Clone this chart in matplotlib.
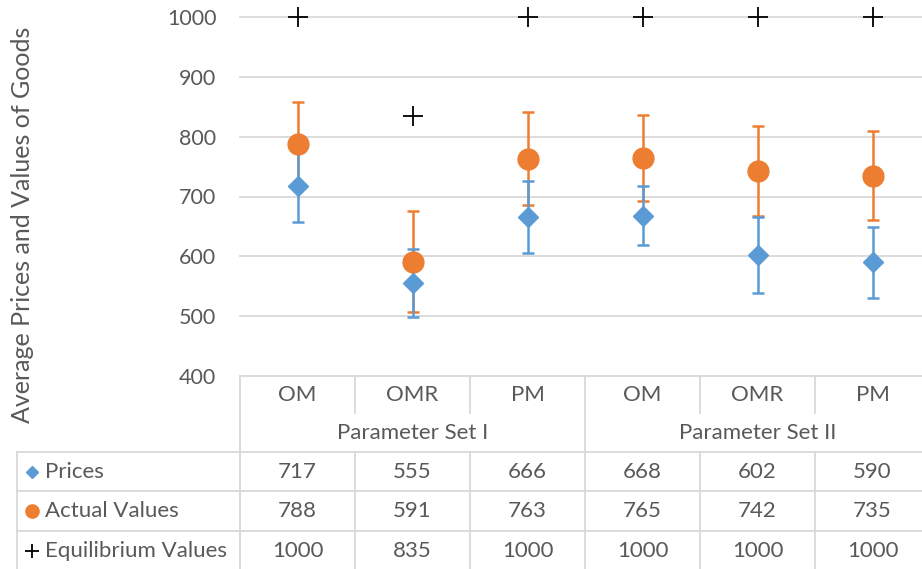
import matplotlib
matplotlib.use("Agg")
import matplotlib.pyplot as plt
from matplotlib.transforms import blended_transform_factory

plt.rcParams["font.family"] = ["Lato", "DejaVu Sans"]

# data
groups = ["Parameter Set I", "Parameter Set II"]
treatments = ["OM", "OMR", "PM", "OM", "OMR", "PM"]
prices = [717, 555, 666, 668, 602, 590]
prices_err = [60, 57, 60, 49, 64, 59]
actual = [788, 591, 763, 765, 742, 735]
actual_err = [70, 84, 78, 72, 75, 75]
equilibrium = [1000, 835, 1000, 1000, 1000, 1000]
yticks = [400, 500, 600, 700, 800, 900, 1000]

BLUE = "#5B9BD5"
ORANGE = "#ED7D31"
TXT = "#595959"
GRID = "#D9D9D9"
FS = 16

W, H = 922, 569
fig = plt.figure(figsize=(W / 100, H / 100), dpi=100)

# plot area in pixels: x 240..930, y 17..376
ax = fig.add_axes([240 / W, (H - 376) / H, 690 / W, (376 - 17) / H])
x = list(range(len(treatments)))

ax.errorbar(x, actual, yerr=actual_err, fmt="none", ecolor=ORANGE,
            elinewidth=1.8, capsize=4.5, capthick=1.8, zorder=2)
ax.errorbar(x, prices, yerr=prices_err, fmt="none", ecolor=BLUE,
            elinewidth=1.8, capsize=4.5, capthick=1.8, zorder=3)
ax.plot(x, actual, "o", color=ORANGE, ms=15, mec=ORANGE, zorder=4, linestyle="none")
ax.plot(x, prices, "D", color=BLUE, ms=10, mec=BLUE, zorder=5, linestyle="none")
ax.plot(x, equilibrium, "+", color="black", ms=14.4, mew=1.3, zorder=6,
        linestyle="none", clip_on=False)

ax.set_xlim(-0.5, len(treatments) - 0.5)
ax.set_ylim(400, 1000)
ax.set_yticks(yticks)
ax.set_yticklabels([str(v) for v in yticks], color=TXT, fontsize=15.5)
ax.tick_params(axis="y", length=0, pad=17)
ax.set_xticks([])
for s in ax.spines.values():
    s.set_visible(False)
for v in yticks[1:]:
    ax.axhline(v, color=GRID, lw=1.3, zorder=1, clip_on=False)

fig.text(23 / W, (H - 225) / H, "Average Prices and Values of Goods",
         rotation=90, ha="center", va="center", color=TXT, fontsize=18)

# data table below the plot
tab = fig.add_axes([0, 0, 1, 1], facecolor="none")
tab.set_xlim(0, W)
tab.set_ylim(H, 0)
tab.axis("off")
bt = blended_transform_factory(ax.transData, tab.transData)

n = len(treatments)
left_edge = 17
row_top = [376, 452, 491, 531]
row_bottom = 571

# horizontal lines
tab.plot([240, W], [376, 376], color=GRID, lw=1.3)
for yy in row_top[1:]:
    tab.plot([left_edge, W], [yy, yy], color=GRID, lw=1.3)
tab.plot([left_edge, left_edge], [452, row_bottom], color=GRID, lw=1.3)
tab.plot([240, 240], [376, row_bottom], color=GRID, lw=1.3)

# vertical column lines
for i in range(1, n + 1):
    xb = i - 0.5
    if i % 3 == 0:
        tab.plot([xb, xb], [376, row_bottom], color=GRID, lw=1.3, transform=bt, clip_on=False)
    else:
        tab.plot([xb, xb], [376, 413], color=GRID, lw=1.3, transform=bt, clip_on=False)
        tab.plot([xb, xb], [452, row_bottom], color=GRID, lw=1.3, transform=bt, clip_on=False)

# category labels
for i, t in enumerate(treatments):
    tab.text(i, 395, t, transform=bt, ha="center", va="center", color=TXT, fontsize=FS)
for g, name in enumerate(groups):
    tab.text(g * 3 + 1, 433, name, transform=bt, ha="center", va="center", color=TXT, fontsize=FS)

# series rows
rows = [
    ("Prices", prices, "D", BLUE, 6.5, 1),
    ("Actual Values", actual, "o", ORANGE, 9.5, 1),
    ("Equilibrium Values", equilibrium, "+", "black", 10, 1.3),
]
for r, (label, vals, mk, col, ms, mew) in enumerate(rows):
    yc = (row_top[r + 1] + (row_top[r + 2] if r + 2 < len(row_top) else row_bottom)) / 2
    tab.plot([32], [yc], mk, color=col, ms=ms, mew=mew, mec=col)
    tab.text(45, yc, label, ha="left", va="center", color=TXT, fontsize=FS)
    for i, v in enumerate(vals):
        tab.text(i, yc, str(v), transform=bt, ha="center", va="center", color=TXT, fontsize=FS)

fig.savefig("out.png", dpi=100)
